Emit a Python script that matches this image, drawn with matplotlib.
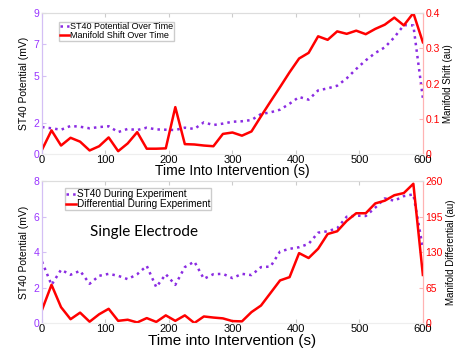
import numpy as np
import matplotlib
matplotlib.use('Agg')
import matplotlib.pyplot as plt

plt.rcParams['font.family'] = ['Liberation Sans', 'DejaVu Sans']

t = np.arange(0, 601, 15)

# top panel
st40_top = [1.72, 1.64, 1.55, 1.79, 1.74, 1.64, 1.72, 1.77, 1.40, 1.60, 1.53,
            1.68, 1.57, 1.55, 1.53, 1.68, 1.60, 2.02, 1.85, 1.94, 2.06, 2.09,
            2.17, 2.55, 2.66, 2.83, 3.21, 3.64, 3.47, 4.06, 4.19, 4.36, 4.83,
            5.43, 5.98, 6.45, 6.81, 7.45, 8.23, 8.21, 3.57]
shift_top = [0.012, 0.067, 0.024, 0.046, 0.035, 0.010, 0.022, 0.047, 0.008, 0.030,
             0.062, 0.015, 0.015, 0.016, 0.133, 0.028, 0.027, 0.024, 0.022, 0.057,
             0.061, 0.052, 0.064, 0.107, 0.149, 0.190, 0.232, 0.271, 0.287, 0.334,
             0.324, 0.348, 0.341, 0.350, 0.340, 0.355, 0.367, 0.387, 0.365, 0.400,
             0.317]

# bottom panel
st40_bot = [3.46, 2.15, 3.00, 2.72, 2.94, 2.21, 2.66, 2.77, 2.66, 2.47, 2.75,
            3.22, 2.02, 2.75, 2.15, 3.15, 3.46, 2.49, 2.75, 2.77, 2.53, 2.77,
            2.70, 3.15, 3.18, 4.03, 4.18, 4.27, 4.46, 5.09, 5.17, 5.34, 5.99,
            6.05, 6.03, 6.50, 7.02, 6.89, 7.15, 7.25, 4.21]
diff_bot = [24, 70, 29, 7, 19, 2.4, 16, 26, 4, 6, 1, 9, 2, 14, 4, 14, 0, 12, 10,
            8.5, 3.5, 3, 20, 32, 55, 78, 84, 128, 119, 136, 163, 168, 187, 201,
            201, 219, 224, 234, 238, 255, 88]

purple = '#8a2be2'
red = '#ff0000'
tick_purple = '#9933ff'


def style(ax, ax2):
    for a in (ax, ax2):
        a.spines['top'].set_color('#dddddd')
        a.spines['bottom'].set_color('#eeeeee')
        a.spines['left'].set_color('#d4bff5')
        a.spines['right'].set_color('#ffb3b3')
    ax.tick_params(axis='x', direction='in', top=True, length=3, color='#cccccc',
                   labelsize=8, pad=1)
    ax.tick_params(axis='y', direction='in', length=3, color='#d4bff5',
                   labelcolor=tick_purple, labelsize=7.5, pad=2)
    ax2.tick_params(axis='y', direction='in', length=3, color='#ffb3b3',
                    labelcolor=red, labelsize=7.5, pad=2)
    ax.set_xlim(0, 600)
    ax.set_xticks([0, 100, 200, 300, 400, 500, 600])


fig = plt.figure(figsize=(4.6, 3.48), dpi=100)

ax1 = fig.add_axes([0.0913, 0.5575, 0.828, 0.405])
ax1b = ax1.twinx()
l1, = ax1.plot(t, st40_top, ':', color=purple, lw=1.8)
l2, = ax1b.plot(t, shift_top, '-', color=red, lw=1.8)
ax1.set_ylim(0, 9)
ax1.set_yticks([0, 2, 5, 7, 9])
ax1b.set_ylim(0, 0.4)
ax1b.set_yticks([0, 0.1, 0.2, 0.3, 0.4])
ax1b.set_yticklabels(['0', '0.1', '0.2', '0.3', '0.4'])
style(ax1, ax1b)
ax1.set_xlabel('Time Into Intervention (s)', fontsize=10, labelpad=-1)
ax1.set_ylabel('ST40 Potential (mV)', fontsize=7.5, labelpad=3)
ax1b.set_ylabel('Manifold Shift (au)', fontsize=7, labelpad=2)
ax1b.legend([l1, l2], ['ST40 Potential Over Time', 'Manifold Shift Over Time'],
            loc='upper left', bbox_to_anchor=(0.045, 0.94), fontsize=6.5,
            handlelength=1.0, handletextpad=0.1, labelspacing=0.0,
            borderpad=0.1, borderaxespad=0, fancybox=False, framealpha=1,
            edgecolor='#cccccc')

ax2 = fig.add_axes([0.0913, 0.0718, 0.828, 0.408])
ax2b = ax2.twinx()
l3, = ax2.plot(t, st40_bot, ':', color=purple, lw=1.8)
l4, = ax2b.plot(t, diff_bot, '-', color=red, lw=1.8)
ax2.set_ylim(0, 8)
ax2.set_yticks([0, 2, 4, 6, 8])
ax2b.set_ylim(0, 260)
ax2b.set_yticks([0, 65, 130, 195, 260])
style(ax2, ax2b)
ax2.set_xlabel('Time into Intervention (s)', fontsize=11, labelpad=-0.5)
ax2.set_ylabel('ST40 Potential (mV)', fontsize=7.5, labelpad=3)
ax2b.set_ylabel('Manifold Differential (au)', fontsize=7, labelpad=2)
ax2b.legend([l3, l4], ['ST40 During Experiment', 'Differential During Experiment'],
            loc='upper left', bbox_to_anchor=(0.06, 0.95), fontsize=7.2,
            handlelength=1.0, handletextpad=0.1, labelspacing=0.0,
            borderpad=0.1, borderaxespad=0, fancybox=False, framealpha=1,
            edgecolor='#cccccc')
ax2.text(160, 5.1, 'Single Electrode', fontsize=11, ha='center', va='center',
         family=['Lato', 'DejaVu Sans'])

fig.savefig('out.png', dpi=100)
